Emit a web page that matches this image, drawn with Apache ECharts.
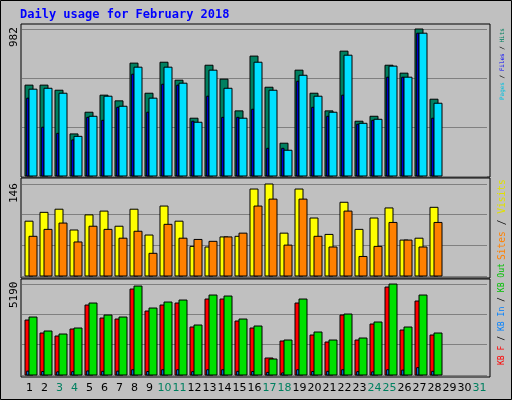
<!DOCTYPE html>
<html><head><meta charset="utf-8">
<script src="https://cdn.jsdelivr.net/npm/echarts@6/dist/echarts.min.js"></script>
<style>html,body{margin:0;padding:0;background:#c0c0c0}#c{width:512px;height:400px}</style>
</head><body><div id="c"></div>
<script>
const days = ['1','2','3','4','5','6','7','8','9','10','11','12','13','14','15','16','17','18','19','20','21','22','23','24','25','26','27','28','29','30','31'];
const weekendDays = ['3','4','10','11','17','18','24','25','31'];
const hits  = [607,607,573,281,426,540,502,754,553,760,640,386,740,647,435,801,593,219,707,553,435,834,366,399,740,687,982,513];
const files = [580,586,553,265,399,533,466,727,520,727,620,359,707,586,386,760,573,172,673,533,426,807,352,379,734,660,954,486];
const pages = [520,326,285,241,392,372,459,680,426,613,607,366,533,392,392,446,185,185,633,459,399,540,346,372,660,660,954,386];
const visits= [87,101,106,73,97,103,79,106,65,111,87,47,46,62,63,138,146,68,138,92,66,117,74,92,108,57,60,109];
const sites = [63,74,84,54,79,74,60,71,36,82,60,58,55,62,68,111,122,49,122,63,46,103,31,47,85,57,46,85];
const kbF   = [3135,2394,2223,2622,3990,3249,3192,4902,3648,3990,4104,2736,4332,4332,3078,2679,969,1938,4104,2280,1881,3420,1995,2907,5016,2565,4218,2280];
const kbIn  = [220,200,180,190,230,210,220,300,200,300,300,190,300,300,210,200,150,120,300,200,210,300,190,180,300,280,420,210];
const kbOut = [3306,2508,2337,2679,4104,3420,3306,5073,3819,4161,4275,2850,4560,4503,3192,2793,912,1995,4332,2451,1995,3477,2109,3021,5187,2736,4560,2394];
const maxHits = 982, maxVisits = 146, maxKB = 5190;

const chart = echarts.init(document.getElementById('c'));
const green = '#008060';
function mkRender(colors){
  return function(params, api){
    const x = api.value(0);
    const base = api.coord([x, 0]);
    const kids = [];
    const specs = [[1,-4.5,8],[2,-2.8,2.3],[3,-0.5,8]];
    specs.forEach(function(s, i){
      const v = api.value(s[0]);
      const top = api.coord([x, v]);
      kids.push({type:'rect', shape:{x:base[0]+s[1], y:top[1], width:s[2], height:base[1]-top[1]},
        style:{fill:colors[i], stroke:'#000', lineWidth:1}});
    });
    return {type:'group', children:kids};
  };
}
function mkData(a,b,c){ return a.map(function(v,i){return [i, a[i], b[i], c[i]];}); }
const gl = 22, gw = 465;
const grids = [
  {left:gl, width:gw, top:29, height:147},
  {left:gl, width:gw, top:184, height:92},
  {left:gl, width:gw, top:284, height:91}
];
const maxes = [maxHits, maxVisits, maxKB];
const xAxes = grids.map(function(g,i){
  return {type:'category', gridIndex:i, data:days, boundaryGap:true,
    axisLine:{show:false}, axisTick:{show:false},
    axisLabel:{show:i===2, interval:0, fontFamily:'DejaVu Sans', fontSize:11, margin:8,
      color:function(v){return weekendDays.indexOf(v)>=0 ? green : '#000';}}};
});
const yAxes = grids.map(function(g,i){
  return {type:'value', gridIndex:i, min:0, max:maxes[i], interval:maxes[i]/3,
    axisLine:{show:false}, axisTick:{show:false}, axisLabel:{show:false},
    splitLine:{show:true, lineStyle:{color:'#808080', width:1}}};
});
const ctx = document.createElement('canvas').getContext('2d');
function vlabel(x, yBottom, targetLen, parts){
  const full = parts.map(function(p){return p[0];}).join('');
  ctx.font = '10px "DejaVu Sans Mono"';
  const fs = 10 * targetLen / ctx.measureText(full).width;
  const font = fs.toFixed(2) + 'px "DejaVu Sans Mono"';
  ctx.font = font;
  const els = [];
  let off = 0;
  parts.forEach(function(p){
    els.push({type:'text', x:x, y:yBottom-off, rotation:Math.PI/2,
      style:{text:p[0], fill:p[1], font:font, textAlign:'left', textVerticalAlign:'middle'}});
    off += ctx.measureText(p[0]).width;
  });
  return els;
}
const frames = [[21,24,469,153],[21,178,469,100],[21,279,469,98]].map(function(f){
  return {type:'rect', shape:{x:f[0],y:f[1],width:f[2],height:f[3]}, z:-1,
    style:{fill:'none', stroke:'#000', lineWidth:1}};
});
const graphics = [
  {type:'rect', shape:{x:0.5,y:0.5,width:511,height:399}, style:{fill:'none',stroke:'#000',lineWidth:1}},
  {type:'text', x:20, y:15, style:{text:'Daily usage for February 2018', fill:'#0000ff', font:'bold 12px "DejaVu Sans Mono"', textVerticalAlign:'middle'}},
  {type:'text', x:14, y:47, rotation:Math.PI/2, style:{text:String(maxHits), fill:'#000', font:'11px "DejaVu Sans Mono"', textAlign:'left', textVerticalAlign:'middle'}},
  {type:'text', x:14, y:203, rotation:Math.PI/2, style:{text:String(maxVisits), fill:'#000', font:'11px "DejaVu Sans Mono"', textAlign:'left', textVerticalAlign:'middle'}},
  {type:'text', x:14, y:308, rotation:Math.PI/2, style:{text:String(maxKB), fill:'#000', font:'11px "DejaVu Sans Mono"', textAlign:'left', textVerticalAlign:'middle'}}
].concat(frames)
 .concat(vlabel(502, 100, 72, [['Pages','#00c0e0'],[' / ','#000'],['Files','#0000ff'],[' / ','#000'],['Hits',green]]))
 .concat(vlabel(502, 260, 81, [['Sites','#ff8000'],[' / ','#000'],['Visits','#e0e000']]))
 .concat(vlabel(502, 365, 102, [['KB F','#ff0000'],[' / ','#000'],['KB In','#0080ff'],[' / ','#000'],['KB Out','#00c000']]));

chart.setOption({
  animation:false,
  backgroundColor:'#c0c0c0',
  grid:grids, xAxis:xAxes, yAxis:yAxes,
  graphic:graphics,
  series:[
    {type:'custom', xAxisIndex:0, yAxisIndex:0, renderItem:mkRender([green,'#0000ff','#00e0ff']), data:mkData(hits,pages,files), encode:{x:0,y:[1,2,3]}},
    {type:'custom', xAxisIndex:1, yAxisIndex:1, renderItem:function(p,api){
      const x=api.value(0), base=api.coord([x,0]);
      const a=api.coord([x,api.value(1)]), b=api.coord([x,api.value(2)]);
      return {type:'group',children:[
        {type:'rect',shape:{x:base[0]-4.5,y:a[1],width:8,height:base[1]-a[1]},style:{fill:'#ffff00',stroke:'#000',lineWidth:1}},
        {type:'rect',shape:{x:base[0]-0.5,y:b[1],width:8,height:base[1]-b[1]},style:{fill:'#ff8000',stroke:'#000',lineWidth:1}}]};
    }, data:visits.map(function(v,i){return [i,visits[i],sites[i]];}), encode:{x:0,y:[1,2]}},
    {type:'custom', xAxisIndex:2, yAxisIndex:2, renderItem:mkRender(['#ff0000','#0080ff','#00e000']), data:mkData(kbF,kbIn,kbOut), encode:{x:0,y:[1,2,3]}}
  ]
});
</script></body></html>
